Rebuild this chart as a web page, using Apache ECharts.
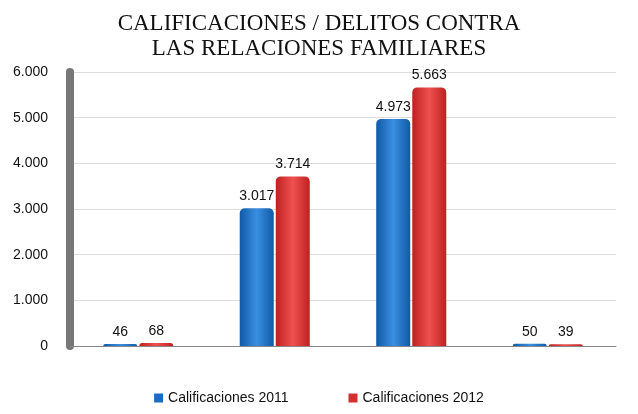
<!DOCTYPE html>
<html><head><meta charset="utf-8">
<script src="https://cdn.jsdelivr.net/npm/echarts@6/dist/echarts.min.js"></script>
<style>html,body{margin:0;padding:0;background:#fff}#c{width:638px;height:414px}</style>
</head><body><div id="c"></div>
<script>
const categories = ['A','B','C','D'];
const series2011 = [46, 3017, 4973, 50];
const series2012 = [68, 3714, 5663, 39];
const names = ['Calificaciones 2011','Calificaciones 2012'];
const fmt = v => String(v).replace(/\B(?=(\d{3})+(?!\d))/g,'.');
const grad = (a,b)=>new echarts.graphic.LinearGradient(0,0,1,0,[{offset:0,color:a},{offset:0.5,color:b},{offset:1,color:a}]);
const chart = echarts.init(document.getElementById('c'));
chart.setOption({
  backgroundColor:'#fff',
  title:{text:'CALIFICACIONES / DELITOS CONTRA\nLAS RELACIONES FAMILIARES',left:'center',top:6,
    textStyle:{fontFamily:'Liberation Serif',fontWeight:'normal',fontSize:23,color:'#111',lineHeight:25}},
  legend:{bottom:4,itemWidth:9,itemHeight:9,itemGap:60,icon:'rect',
    textStyle:{fontFamily:'Liberation Sans',fontSize:14,color:'#111'},
    data:[{name:names[0],itemStyle:{color:'#1a6cc0'}},{name:names[1],itemStyle:{color:'#d62f2f'}}]},
  grid:{left:70,right:22,top:72,bottom:68},
  xAxis:{type:'category',data:categories,axisLabel:{show:false},axisTick:{show:false},
    axisLine:{lineStyle:{color:'#888'}}},
  yAxis:{type:'value',min:0,max:6000,interval:1000,
    axisLabel:{formatter:v=>fmt(v),fontFamily:'Liberation Sans',fontSize:14,color:'#111',margin:22},
    axisLine:{show:true,lineStyle:{color:'#777',width:8}},
    splitLine:{lineStyle:{color:'#ddd'}},
    splitArea:{show:false}},
  series:[
    {name:names[0],type:'bar',data:series2011,barWidth:34,barGap:'6%',
     itemStyle:{color:grad('#0f5aa8','#3b8fe0'),borderRadius:[5,5,0,0]},
     label:{show:true,position:'top',formatter:p=>fmt(p.value),fontFamily:'Liberation Sans',fontSize:14,color:'#111'}},
    {name:names[1],type:'bar',data:series2012,barWidth:34,
     itemStyle:{color:grad('#c02020','#ef5050'),borderRadius:[5,5,0,0]},
     label:{show:true,position:'top',formatter:p=>fmt(p.value),fontFamily:'Liberation Sans',fontSize:14,color:'#111'}}
  ]
});
</script></body></html>
